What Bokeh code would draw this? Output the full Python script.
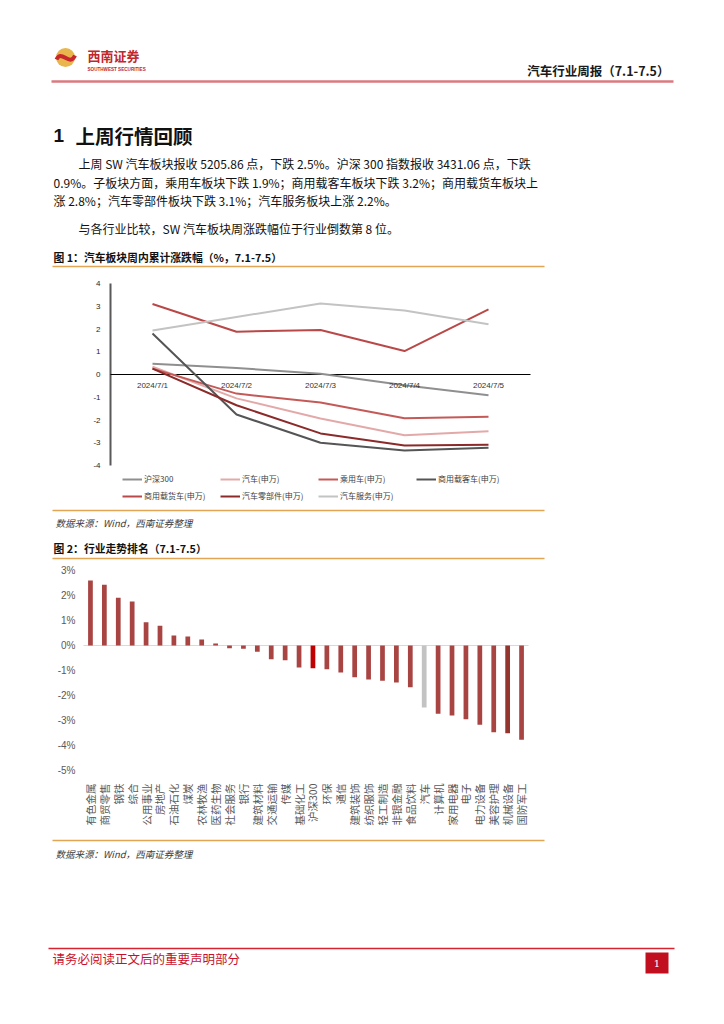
import math
from bokeh.plotting import figure
from bokeh.models import Range1d, Legend, LegendItem
from bokeh.embed import file_html
from bokeh.resources import INLINE
from bokeh.core.properties import value

# ---------------- data ----------------
dates = ["2024/7/1", "2024/7/2", "2024/7/3", "2024/7/4", "2024/7/5"]
hs300 = [0.47, 0.29, 0.03, -0.47, -0.91]
auto_sw = [0.34, -1.05, -1.93, -2.67, -2.49]
passenger_sw = [0.26, -0.84, -1.23, -1.92, -1.86]
bus_sw = [1.80, -1.76, -3.00, -3.34, -3.22]
truck_sw = [3.10, 1.88, 1.96, 1.03, 2.86]
parts_sw = [0.26, -1.35, -2.59, -3.12, -3.09]
service_sw = [1.93, 2.53, 3.12, 2.81, 2.21]
series_names = ["沪深300", "汽车(申万)", "乘用车(申万)", "商用载客车(申万)",
                "商用载货车(申万)", "汽车零部件(申万)", "汽车服务(申万)"]
y1_ticks = [-4, -3, -2, -1, 0, 1, 2, 3, 4]

industries = ["有色金属", "商贸零售", "钢铁", "综合", "公用事业", "房地产", "石油石化", "煤炭",
              "农林牧渔", "医药生物", "社会服务", "银行", "建筑材料", "交通运输", "传媒", "基础化工",
              "沪深300", "环保", "通信", "建筑装饰", "纺织服饰", "轻工制造", "非银金融", "食品饮料",
              "汽车", "计算机", "家用电器", "电子", "电力设备", "美容护理", "机械设备", "国防军工"]
weekly_change = [2.60, 2.43, 1.91, 1.76, 0.93, 0.79, 0.40, 0.36,
                 0.24, 0.08, -0.11, -0.13, -0.25, -0.55, -0.59, -0.88,
                 -0.91, -0.95, -1.08, -1.27, -1.36, -1.41, -1.48, -1.67,
                 -2.48, -2.73, -2.80, -2.95, -3.17, -3.47, -3.51, -3.77]
y2_ticks = [-5, -4, -3, -2, -1, 0, 1, 2, 3]

header_title = "汽车行业周报（7.1-7.5）"
section_no = "1"
section_title = "上周行情回顾"
para_lines = ["上周 SW 汽车板块报收 5205.86 点，下跌 2.5%。沪深 300 指数报收 3431.06 点，下跌",
              "0.9%。子板块方面，乘用车板块下跌 1.9%；商用载客车板块下跌 3.2%；商用载货车板块上",
              "涨 2.8%；汽车零部件板块下跌 3.1%；汽车服务板块上涨 2.2%。",
              "与各行业比较，SW 汽车板块周涨跌幅位于行业倒数第 8 位。"]
fig1_title = "图 1：汽车板块周内累计涨跌幅（%，7.1-7.5）"
fig2_title = "图 2：行业走势排名（7.1-7.5）"
source_note = "数据来源：Wind，西南证券整理"
footer_note = "请务必阅读正文后的重要声明部分"

# ---------------- page geometry (page pixels; the figure sits at the page origin) ----------------
W, H = 716, 1016
PX0, PY0 = 0, 0
PX1, PY1 = PX0 + W, PY0 + H
CJK = "Noto Sans CJK SC"
LAT = "Liberation Sans"
ORANGE = "#e2a553"

# chart 1 plot area: x 110..530 (5 bands), y: 0 at 374, 22.75 px per unit
C1_LEFT, C1_RIGHT, C1_ZERO, C1_UNIT = 110.0, 530.0, 374.0, 22.75
c1_band = (C1_RIGHT - C1_LEFT) / len(dates)
c1x = Range1d((PX0 - C1_LEFT) / c1_band - 0.5, (PX1 - C1_LEFT) / c1_band - 0.5)
c1y = Range1d((C1_ZERO - PY1) / C1_UNIT, (C1_ZERO - PY0) / C1_UNIT)

# chart 2 plot area: x 83..528 (32 bands), y: 0 at 645, 25 px per percent
C2_LEFT, C2_RIGHT, C2_ZERO, C2_UNIT = 83.0, 528.0, 645.0, 25.0
c2_band = (C2_RIGHT - C2_LEFT) / len(industries)
c2x = Range1d((PX0 - C2_LEFT) / c2_band - 0.5, (PX1 - C2_LEFT) / c2_band - 0.5)
c2y = Range1d((C2_ZERO - PY1) / C2_UNIT, (C2_ZERO - PY0) / C2_UNIT)

p = figure(width=W, height=H, x_range=Range1d(PX0, PX1), y_range=Range1d(PY1, PY0),
           output_backend="svg", toolbar_location=None, min_border=0,
           x_axis_location=None, y_axis_location=None)
p.extra_x_ranges = {"c1x": c1x, "c2x": c2x}
p.extra_y_ranges = {"c1y": c1y, "c2y": c2y}
p.grid.visible = False
p.outline_line_color = None
p.background_fill_color = "white"
p.border_fill_color = "white"


def txt(x, y, s, size, color="#111111", style="normal", align="left", font=CJK):
    p.text(x=[x], y=[y], text=[s], text_font=value(font), text_font_size=size,
           text_color=color, text_font_style=style, text_align=align,
           text_baseline="middle")


def hline(x0, x1, y, color, width):
    p.line(x=[x0, x1], y=[y, y], line_color=color, line_width=width)


# ---------------- page header & text ----------------
p.circle(x=[65], y=[57], radius=9.5, fill_color="#e9b54d", line_color=None)
p.bezier(x0=[56], y0=[59], x1=[74.5], y1=[55], cx0=[61], cy0=[48], cx1=[69], cy1=[67],
         line_color="#c8282d", line_width=4)
txt(87, 55, "西南证券", "13px", "#c0282d", "bold")
txt(87, 69, "SOUTHWEST SECURITIES", "4.6px", "#c0282d", "bold", font=LAT)
txt(669, 70, header_title, "12.5px", "#1a1a1a", "bold", "right")
hline(51, 673, 81, "#da7a80", 2.5)
txt(53, 135, section_no, "19px", "#111111", "bold", font=LAT)
txt(75, 135, section_title, "19.5px", "#111111", "bold")
txt(78, 163, para_lines[0], "12px")
txt(53, 182, para_lines[1], "12px")
txt(53, 200, para_lines[2], "12px")
txt(78, 228, para_lines[3], "12px")
txt(53, 256, fig1_title, "10.8px", "#111111", "bold")
hline(52, 544, 266, ORANGE, 1.5)

# ---------------- chart 1 ----------------
c1_idx = list(range(len(dates)))
c1_lo, c1_hi = -0.5, len(dates) - 0.5
kw1 = dict(x_range_name="c1x", y_range_name="c1y")
p.line(x=[c1_lo, c1_lo], y=[min(y1_ticks), max(y1_ticks)], line_color="#595959",
       line_width=2, **kw1)
p.text(x=[c1_lo] * len(y1_ticks), y=y1_ticks, text=[str(t) for t in y1_ticks],
       x_offset=-10, text_align="right", text_baseline="middle", text_font=value(LAT),
       text_font_size="8px", text_color="#262626", **kw1)
p.line(x=[c1_lo, c1_hi], y=[0, 0], line_color="#000000", line_width=1, **kw1)

line_colors = ["#8f8f8f", "#e3a9a9", "#c45a58", "#555555", "#b94848", "#8c2a2a", "#c3c3c3"]
all_series = [hs300, auto_sw, passenger_sw, bus_sw, truck_sw, parts_sw, service_sw]
items = []
for name, vals, col in zip(series_names, all_series, line_colors):
    r = p.line(x=c1_idx, y=vals, line_color=col, line_width=2, **kw1)
    items.append(LegendItem(label=name, renderers=[r]))

p.text(x=c1_idx, y=[0] * len(dates), text=dates, y_offset=11, text_align="center",
       text_baseline="middle", text_font=value(LAT), text_font_size="8px",
       text_color="#333333", **kw1)

legend = Legend(items=items, location=(122 - PX0, PY1 - 503), orientation="horizontal",
                ncols=4, glyph_width=20, glyph_height=12, label_standoff=2, label_width=74,
                label_height=15, spacing=2, padding=0, margin=0,
                border_line_color=None, background_fill_alpha=0,
                label_text_font=CJK, label_text_font_size="8px",
                label_text_color="#404040")
p.add_layout(legend)

# ---------------- between charts ----------------
hline(52, 544, 510, ORANGE, 1.5)
txt(55, 522, source_note, "9.5px", "#404040", "italic")
txt(53, 547, fig2_title, "10.8px", "#111111", "bold")
hline(52, 544, 558, ORANGE, 1.5)

# ---------------- chart 2 ----------------
c2_idx = list(range(len(industries)))
c2_lo, c2_hi = -0.5, len(industries) - 0.5
kw2 = dict(x_range_name="c2x", y_range_name="c2y")
p.line(x=[c2_lo, c2_hi], y=[0, 0], line_color="#d9d9d9", line_width=1, **kw2)
special = {"沪深300": "#c00000", "汽车": "#c3c3c3", "机械设备": "#94342f"}
bar_colors = [special.get(n, "#a84543") for n in industries]
p.vbar(x=c2_idx, top=weekly_change, width=0.34, fill_color=bar_colors, line_color=None, **kw2)
p.text(x=[c2_lo] * len(y2_ticks), y=y2_ticks, text=[f"{t}%" for t in y2_ticks],
       x_offset=-8, text_align="right", text_baseline="middle", text_font=value(LAT),
       text_font_size="10px", text_color="#595959", **kw2)
p.text(x=c2_idx, y=[min(y2_ticks)] * len(industries), text=industries, angle=math.pi / 2,
       y_offset=13, text_align="right", text_baseline="middle", text_font=value(CJK),
       text_font_size="10.5px", text_color="#595959", **kw2)

# ---------------- bottom ----------------
hline(52, 544, 840, ORANGE, 1.5)
txt(55, 853, source_note, "9.5px", "#404040", "italic")
hline(48, 674, 948, "#d6232f", 1.5)
txt(52, 958, footer_note, "12.5px", "#c8102e")
p.rect(x=[656.5], y=[962.5], width=23, height=21, fill_color="#c20f20", line_color=None)
txt(656.5, 963, "1", "10px", "#ffffff", "normal", "center", font="DejaVu Serif")

open("out.html", "w").write(file_html(p, INLINE))
